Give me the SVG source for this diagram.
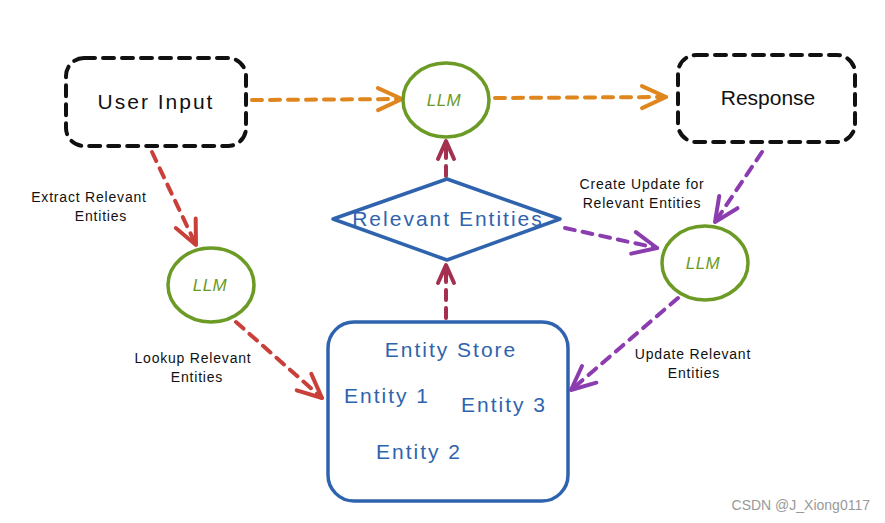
<svg xmlns="http://www.w3.org/2000/svg" width="885" height="523" viewBox="0 0 885 523">
<style>
.box{fill:none;stroke:#111;stroke-width:4;stroke-dasharray:11 8;stroke-linecap:round}
.llm{fill:#fff;stroke:#6B9B25;stroke-width:3.5}
.llmt{font-family:"Liberation Sans",Arial,sans-serif;font-style:italic;font-size:17px;fill:#6B9B25;text-anchor:middle;letter-spacing:0.5px}
.blue{fill:#fff;stroke:#2F63AE;stroke-width:3.5;stroke-linejoin:round}
.bt{font-family:"Liberation Sans",Arial,sans-serif;font-size:21px;fill:#2F63AE;text-anchor:middle;letter-spacing:2px}
.kt{font-family:"Liberation Sans",Arial,sans-serif;font-size:21px;fill:#111;text-anchor:middle}
.lbl{font-family:"Liberation Sans",Arial,sans-serif;font-size:14px;fill:#111;text-anchor:middle;letter-spacing:0.8px}
.c{fill:none;stroke-width:4;stroke-dasharray:10 8;stroke-linecap:round}
.or{stroke:#E0861E}.rd{stroke:#C9403A}.mr{stroke:#A3304F}.pu{stroke:#8B3DB0}
</style>
<defs>
<marker id="aor" markerUnits="userSpaceOnUse" markerWidth="34" markerHeight="34" refX="0" refY="0" viewBox="-28 -17 32 34" orient="auto"><path d="M-24,-11 L0,0 L-24,11" fill="none" stroke="#E0861E" stroke-width="4" stroke-linecap="round" stroke-linejoin="round"/></marker>
<marker id="ard" markerUnits="userSpaceOnUse" markerWidth="34" markerHeight="34" refX="0" refY="0" viewBox="-28 -17 32 34" orient="auto"><path d="M-24,-11 L0,0 L-24,11" fill="none" stroke="#C9403A" stroke-width="4" stroke-linecap="round" stroke-linejoin="round"/></marker>
<marker id="amr" markerUnits="userSpaceOnUse" markerWidth="34" markerHeight="34" refX="0" refY="0" viewBox="-28 -17 32 34" orient="auto"><path d="M-18,-8 L0,0 L-18,8" fill="none" stroke="#A3304F" stroke-width="4" stroke-linecap="round" stroke-linejoin="round"/></marker>
<marker id="apu" markerUnits="userSpaceOnUse" markerWidth="34" markerHeight="34" refX="0" refY="0" viewBox="-28 -17 32 34" orient="auto"><path d="M-24,-11 L0,0 L-24,11" fill="none" stroke="#8B3DB0" stroke-width="4" stroke-linecap="round" stroke-linejoin="round"/></marker>
</defs>
<rect width="885" height="523" fill="#fff"/>
<g id="connectors">
<line class="c or" x1="252" y1="100" x2="402" y2="99" marker-end="url(#aor)"/>
<line class="c or" x1="495" y1="98" x2="666" y2="97" marker-end="url(#aor)"/>
<line class="c rd" x1="152" y1="152" x2="196" y2="245" marker-end="url(#ard)"/>
<line class="c rd" x1="236" y1="322" x2="322" y2="398" marker-end="url(#ard)"/>
<line class="c mr" x1="446" y1="176" x2="446" y2="141" marker-end="url(#amr)"/>
<line class="c mr" x1="446" y1="318" x2="446" y2="265" marker-end="url(#amr)"/>
<line class="c pu" x1="762" y1="152" x2="715" y2="222" marker-end="url(#apu)"/>
<line class="c pu" x1="565" y1="228" x2="657" y2="248" marker-end="url(#apu)"/>
<line class="c pu" x1="678" y1="298" x2="571" y2="390" marker-end="url(#apu)"/>
</g>
<g id="user-input"><rect class="box" x="66" y="58" width="180" height="88" rx="18"/><text class="kt" x="156" y="109" letter-spacing="2">User Input</text></g>
<g id="llm-top"><ellipse class="llm" cx="446" cy="100" rx="43" ry="37"/><text class="llmt" x="444" y="106">LLM</text></g>
<g id="response"><rect class="box" x="678" y="55" width="177" height="87" rx="18"/><text class="kt" x="768" y="105">Response</text></g>
<g id="relevant-entities"><path class="blue" d="M333,219 L447,179 L560,219 L447,260 Z"/><text class="bt" x="448" y="226">Relevant Entities</text></g>
<g id="llm-left"><ellipse class="llm" cx="211" cy="285" rx="43" ry="37"/><text class="llmt" x="210" y="291">LLM</text></g>
<g id="llm-right"><ellipse class="llm" cx="705" cy="263" rx="43" ry="37"/><text class="llmt" x="703" y="269">LLM</text></g>
<g id="entity-store"><rect class="blue" x="328" y="322" width="240" height="179" rx="26"/>
<text class="bt" x="451" y="357">Entity Store</text>
<text class="bt" x="387" y="403">Entity 1</text>
<text class="bt" x="504" y="412">Entity 3</text>
<text class="bt" x="419" y="459">Entity 2</text></g>
<g id="labels">
<text class="lbl" x="89" y="202">Extract Relevant</text><text class="lbl" x="101" y="221">Entities</text>
<text class="lbl" x="193" y="363">Lookup Relevant</text><text class="lbl" x="197" y="382">Entities</text>
<text class="lbl" x="642" y="189">Create Update for</text><text class="lbl" x="642" y="208">Relevant Entities</text>
<text class="lbl" x="693" y="359">Update Relevant</text><text class="lbl" x="694" y="378">Entities</text>
</g>
<text x="870" y="510" font-family="Liberation Sans,Arial,sans-serif" font-size="14" fill="#999" text-anchor="end">CSDN @J_Xiong0117</text>
</svg>
